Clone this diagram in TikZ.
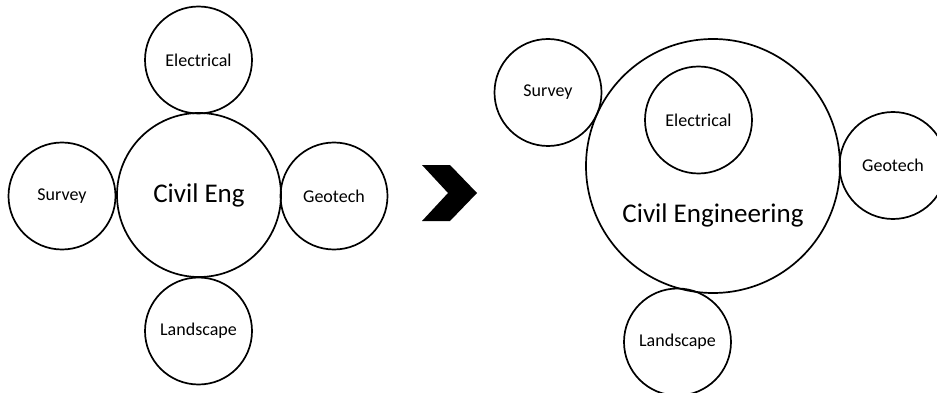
\documentclass[tikz,border=0pt]{standalone}
\usepackage{fontspec}
\setmainfont{Carlito}
\begin{document}
\begin{tikzpicture}[x=1pt,y=-1pt,
  disc/.style={circle,draw=black,line width=1.7pt,inner sep=0pt,minimum size=#1,font=\fontsize{18}{21}\selectfont},
  disc/.default=107pt,
  bigtext/.style={font=\fontsize{27}{32}\selectfont,inner sep=0pt}]
\useasboundingbox (0,0) rectangle (937,393);
\clip (0,0) rectangle (937,393);
% left diagram
\node[disc=164pt,bigtext] (civil) at (199,195) {Civil Eng};
\node[disc] (elec) at (198.5,60) {Electrical};
\node[disc] (surv) at (62,196) {Survey};
\node[disc] (geo) at (334,196) {Geotech};
\node[disc] (land) at (198.5,331) {Landscape};
% chevron
\fill[black] (422,165) -- (450,165) -- (477,193) -- (450,221) -- (422,221) -- (448,193) -- cycle;
% right diagram
\node[disc=254pt] (civil2) at (713,166) {};
\node[bigtext] (civil2label) at (713,215) {Civil Engineering};
\node[disc] (elec2) at (698.5,120) {Electrical};
\node[disc] (surv2) at (548,92.5) {Survey};
\node[disc] (geo2) at (893,165.5) {Geotech};
\node[disc] (land2) at (677.5,342) {Landscape};
\end{tikzpicture}
\end{document}
